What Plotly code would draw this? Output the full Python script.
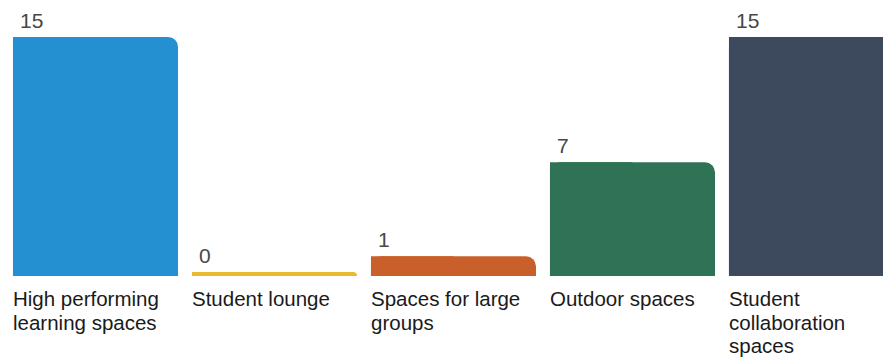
import plotly.graph_objects as go

categories = ["High performing<br>learning spaces", "Student lounge", "Spaces for large<br>groups",
              "Outdoor spaces", "Student<br>collaboration<br>spaces"]
values = [15, 0, 1, 7, 15]
colors = ["#2490D2", "#E9B92F", "#C9602B", "#2F7256", "#3D4A5E"]

STUB = 0.255          # minimal visible stub so a zero value still shows as a line
BAR_W = 0.922
LINE_H = 23.5
xs = list(range(len(values)))
shown = [v + STUB for v in values]

fig = go.Figure()
# full-width bars with rounded top corners
fig.add_trace(go.Bar(x=xs, y=shown, width=BAR_W,
                     marker=dict(color=colors, cornerradius=10, line=dict(width=0)),
                     hoverinfo="skip", showlegend=False))
# left half overlay with square corners -> only top-right corner rounded
fig.add_trace(go.Bar(x=xs, y=shown, width=BAR_W / 2, offset=-BAR_W / 2,
                     marker=dict(color=colors, cornerradius=0, line=dict(width=0)),
                     hoverinfo="skip", showlegend=False))

annotations = []
for i, (v, c) in enumerate(zip(shown, categories)):
    annotations.append(dict(x=i - BAR_W / 2, y=v, xref="x", yref="y", text=str(values[i]),
                            showarrow=False, xanchor="left", yanchor="bottom",
                            xshift=5, yshift=3,
                            font=dict(family="Liberation Sans, Arial", size=21, color="#474747")))
    for k, line in enumerate(c.split("<br>")):
        annotations.append(dict(x=i - BAR_W / 2, y=0, xref="x", yref="paper", text=line,
                                showarrow=False, xanchor="left", yanchor="top", align="left",
                                xshift=-2, yshift=-9 - LINE_H * k,
                                font=dict(family="Liberation Sans, Arial", size=20.5, color="#1a1a1a")))

fig.update_layout(
    width=883, height=360,
    margin=dict(l=0, r=0, t=0, b=84),
    barmode="overlay",
    plot_bgcolor="white", paper_bgcolor="white",
    xaxis=dict(range=[-0.5335, 4.3995], visible=False, fixedrange=True),
    yaxis=dict(range=[0, 17.61], visible=False, fixedrange=True),
    annotations=annotations,
)

fig.write_html("out.html")
